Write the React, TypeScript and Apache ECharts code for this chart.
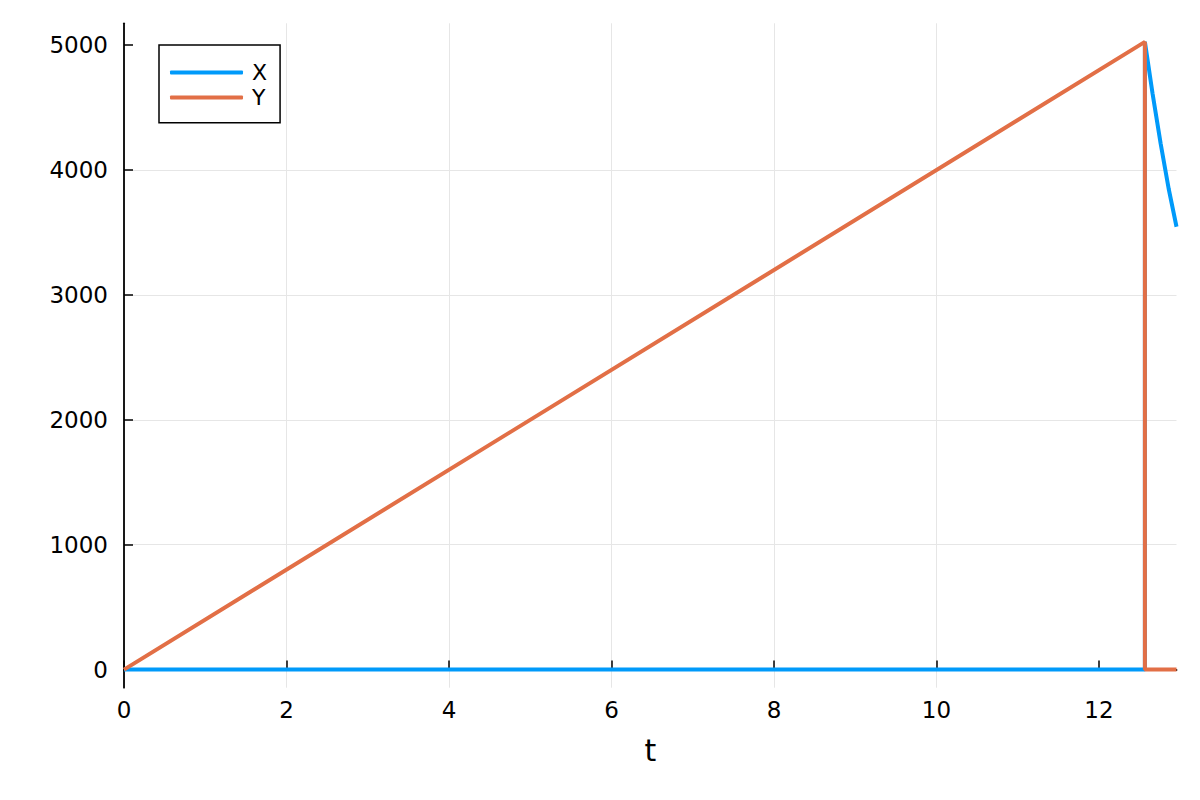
import React, { useEffect, useRef } from 'react';
import * as echarts from 'echarts';

// values
const xTicks = [0, 2, 4, 6, 8, 10, 12];
const yTicks = [0, 1000, 2000, 3000, 4000, 5000];

const seriesX: [number, number][] = [
  [0, 0],
  [12.566, 0],
  [12.566, 5026],
  [12.66, 4614],
  [12.76, 4212],
  [12.86, 3846],
  [12.955, 3546],
];

const seriesY: [number, number][] = [
  [0, 0],
  [12.566, 5026],
  [12.566, 0],
  [12.955, 0],
];

const FONT = 'DejaVu Sans';

const App: React.FC = () => {
  const chartRef = useRef<HTMLDivElement>(null);

  useEffect(() => {
    if (!chartRef.current) return;
    const chart = echarts.init(chartRef.current, undefined, { renderer: 'svg' });

    const axisCommon = {
      axisLine: { show: true, lineStyle: { color: '#000', width: 1.8 } },
      axisTick: { show: true, inside: true, length: 9, lineStyle: { color: '#000', width: 1.5 } },
      splitLine: { show: true, showMaxLine: false, lineStyle: { color: '#e6e6e6', width: 1 } },
    };

    chart.setOption({
      animation: false,
      backgroundColor: '#fff',
      grid: { left: 124, right: 23.5, top: 23.3, bottom: 112.3, containLabel: false },
      legend: {
        orient: 'vertical',
        left: 159,
        top: 45,
        padding: [16.4, 13, 14.2, 11],
        icon: 'roundRect',
        itemWidth: 73,
        itemHeight: 4,
        itemGap: 3.2,
        borderColor: '#000',
        borderWidth: 1.5,
        borderRadius: 0,
        backgroundColor: '#fff',
        textStyle: {
          fontFamily: FONT,
          fontSize: 22,
          color: '#000',
          padding: [0, 0, 0, 4],
        },
        data: ['X', 'Y'],
      },
      xAxis: {
        type: 'value',
        min: 0,
        max: 12.955,
        name: 't',
        nameLocation: 'middle',
        nameGap: 48,
        nameTextStyle: { fontFamily: FONT, fontSize: 30, color: '#000' },
        ...axisCommon,
        axisTick: { ...axisCommon.axisTick, customValues: xTicks },
        axisLabel: {
          customValues: xTicks,
          margin: 11,
          fontFamily: FONT,
          fontSize: 23,
          color: '#000',
          formatter: (v: number) => String(v),
        },
      },
      yAxis: {
        type: 'value',
        min: -145,
        max: 5175,
        ...axisCommon,
        axisTick: { ...axisCommon.axisTick, customValues: yTicks },
        axisLabel: {
          customValues: yTicks,
          margin: 16,
          fontFamily: FONT,
          fontSize: 23,
          color: '#000',
          formatter: (v: number) => String(v),
        },
      },
      series: [
        {
          name: 'X',
          type: 'line',
          data: seriesX,
          showSymbol: false,
          symbol: 'none',
          lineStyle: { color: '#009afa', width: 4 },
          itemStyle: { color: '#009afa' },
          z: 2,
        },
        {
          name: 'Y',
          type: 'line',
          data: seriesY,
          showSymbol: false,
          symbol: 'none',
          lineStyle: { color: '#e26f46', width: 4 },
          itemStyle: { color: '#e26f46' },
          z: 3,
        },
      ],
    });

    return () => {
      chart.dispose();
    };
  }, []);

  return (
    <div
      ref={chartRef}
      style={{ width: 1200, height: 800, position: 'absolute', left: 0, top: 0, background: '#fff' }}
    />
  );
};

export default App;
